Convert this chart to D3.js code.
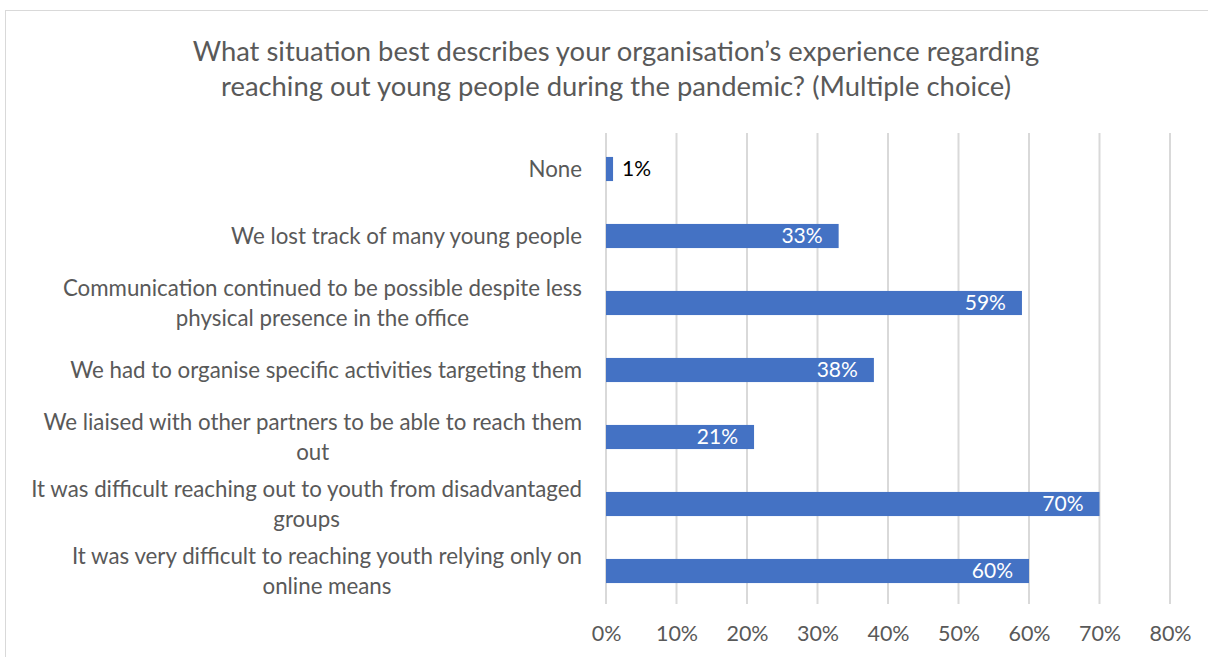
<!DOCTYPE html>
<html><head><meta charset="utf-8">
<script src="https://cdn.jsdelivr.net/npm/d3@7"></script>
<style>body{margin:0;background:#fff;}svg{display:block;}</style>
</head><body>
<svg id="c" width="1208" height="657"></svg>
<script>
const categories = [
  ["None"],
  ["We lost track of many young people"],
  ["Communication continued to be possible despite less", "physical presence in the office"],
  ["We had to organise specific activities targeting them"],
  ["We liaised with other partners to be able to reach them", "out"],
  ["It was difficult reaching out to youth from disadvantaged", "groups"],
  ["It was very difficult to reaching youth relying only on", "online means"]
];
const values = [1, 33, 59, 38, 21, 70, 60];
const ticks = [0, 10, 20, 30, 40, 50, 60, 70, 80];
const titleLines = ["What situation best describes your organisation\u2019s experience regarding",
                    "reaching out young people during the pandemic? (Multiple choice)"];

const font = "Lato, 'Open Sans', sans-serif";
const svg = d3.select("#c");
svg.append("rect").attr("x", 5.5).attr("y", 10.5).attr("width", 1220).attr("height", 700)
  .attr("fill", "#fff").attr("stroke", "#d9d9d9");

const x = d3.scaleLinear().domain([0, 80]).range([606, 1170]);
const y = d3.scaleBand().domain(d3.range(categories.length)).range([135.5, 604.5]).paddingInner(0.64).paddingOuter(0.32);

// gridlines
svg.append("g").selectAll("line").data(ticks).join("line")
  .attr("x1", d => x(d)).attr("x2", d => x(d)).attr("y1", 133).attr("y2", 604)
  .attr("stroke", "#d9d9d9").attr("stroke-width", 2);

// axis labels
const ax = svg.append("g").attr("transform", "translate(0,604)")
  .call(d3.axisBottom(x).tickValues(ticks).tickFormat(d => d + "%").tickSize(0).tickPadding(22));
ax.select(".domain").remove();
ax.selectAll("text").attr("font-family", font).attr("font-size", 21.5).attr("fill", "#595959");

// bars
svg.append("g").selectAll("rect").data(values).join("rect")
  .attr("x", x(0)).attr("y", (d, i) => y(i)).attr("width", d => x(d) - x(0)).attr("height", y.bandwidth())
  .attr("fill", "#4472c4");

// value labels
svg.append("g").selectAll("text").data(values).join("text")
  .attr("x", d => d < 5 ? x(d) + 9 : x(d) - 16)
  .attr("y", (d, i) => y(i) + y.bandwidth() / 2)
  .attr("dy", "0.35em")
  .attr("text-anchor", d => d < 5 ? "start" : "end")
  .attr("font-family", font).attr("font-size", 21)
  .attr("fill", d => d < 5 ? "#000" : "#fff")
  .text(d => d + "%");

// category labels
const labelRight = 582;
const cl = svg.append("g").selectAll("text").data(categories).join("text")
  .attr("font-family", font).attr("font-size", 22.3).attr("fill", "#595959")
  .attr("text-anchor", "middle");
cl.each(function(d, i) {
  const t = d3.select(this);
  const cy = y(i) + y.bandwidth() / 2;
  const tmp = t.append("tspan").text(d[0]);
  const w = tmp.node().getComputedTextLength();
  tmp.remove();
  const cx = labelRight - w / 2;
  t.selectAll("tspan").data(d).join("tspan")
    .attr("x", cx)
    .attr("y", (s, j) => cy - (d.length - 1) * 15 + j * 30)
    .attr("dy", "0.35em")
    .text(s => s);
});

// title
svg.append("g").selectAll("text").data(titleLines).join("text")
  .attr("x", 616).attr("y", (d, i) => 51 + i * 35).attr("dy", "0.35em")
  .attr("text-anchor", "middle").attr("font-family", font).attr("font-size", 27.4)
  .attr("fill", "#595959").text(d => d);
</script>
</body></html>
